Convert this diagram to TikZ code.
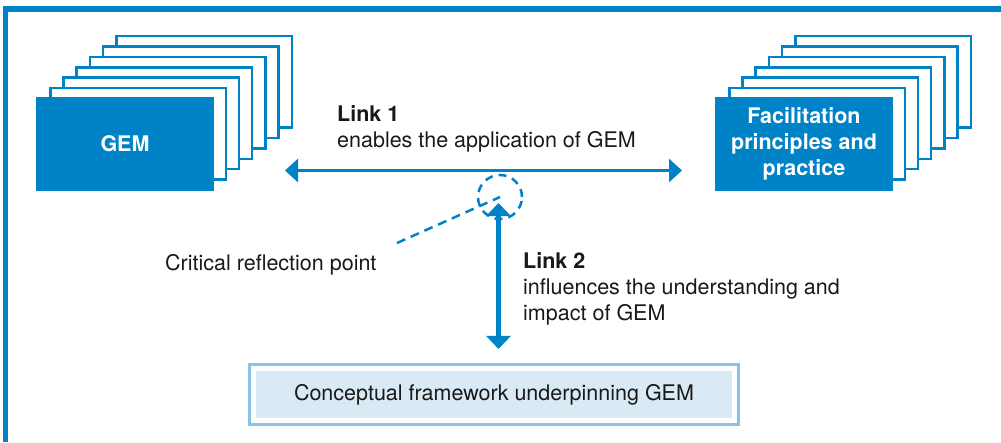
\documentclass[tikz,border=0pt]{standalone}
\usepackage{fontspec}
\setmainfont{TeX Gyre Heros}
\usepackage{tikz}
\usetikzlibrary{arrows.meta,calc,positioning,fit,backgrounds}
\definecolor{gemblue}{RGB}{0,130,198}
\definecolor{lineblue}{RGB}{135,196,232}
\definecolor{fillblue}{RGB}{217,234,244}
\definecolor{ink}{RGB}{25,25,25}

\begin{document}
\begin{tikzpicture}[x=1pt,y=-1pt,
  ltip/.tip={Triangle[length=13pt,width=23pt]},
  vtip/.tip={Triangle[length=13pt,width=24pt]},
  txt/.style={font=\fontsize{21.5}{26}\selectfont,text=ink,inner sep=0pt},
  front/.style={fill=gemblue,minimum width=178pt,minimum height=94pt,inner sep=0pt,align=center,text=white,font=\fontsize{21.5}{26}\selectfont\bfseries},
  sheet/.style={draw=gemblue,fill=white,line width=2.5pt},
  link/.style={draw=gemblue,line width=3pt,ltip-ltip},
  refl/.style={draw=gemblue,line width=2.5pt,dash pattern=on 9pt off 6pt}]
  \useasboundingbox (0,0) rectangle (1001,442);
  \draw[gemblue,line width=5.5pt] (5.5,442) -- (5.5,9) -- (1010,9);

  \node[front] (gem) at (125,144) {GEM};
  \node[front] (fac) at (804,144) {Facilitation\\principles and\\practice};
  \begin{scope}[on background layer]
    \foreach \n in {gem,fac}
      \foreach \i in {6,5,...,1}
        \draw[sheet] ($(\n.south west)+(1.25+13.2*\i,-1.25-10.4*\i)$) rectangle +(175.5,-91.5);
  \end{scope}

  \node[txt,align=left,anchor=north west] (link1) at (337,105) {\textbf{Link 1}\\enables the application of GEM};
  \node[txt,anchor=base west] (crit) at (165,270) {Critical reflection point};
  \node[txt,align=left,anchor=north west] (link2) at (523,252) {\textbf{Link 2}\\influences the understanding and\\impact of GEM};
  \node[txt,fill=fillblue,minimum width=476pt,minimum height=47pt] (concept) at (494,394.5) {Conceptual framework underpinning GEM};
  \node[draw=lineblue,line width=2.7pt,inner sep=6.5pt,fit=(concept)] (frame) {};
  \node[circle,draw=gemblue,line width=2.5pt,dash pattern=on 8pt off 6pt,minimum size=44pt,inner sep=0pt] (crp) at (500,197) {};

  \coordinate (l1w) at (285,170.5);
  \coordinate (l1e) at (682,170.5);
  \coordinate (l2top) at (498.5,203);
  \coordinate (critend) at (397,243);
  \draw[link] (l1w) -- (l1e);
  \draw[link,line width=4.5pt,vtip-vtip,shorten >=14pt] (l2top) -- (l2top |- frame.north);
  \draw[refl] (critend) -- (crp.center);
\end{tikzpicture}
\end{document}
